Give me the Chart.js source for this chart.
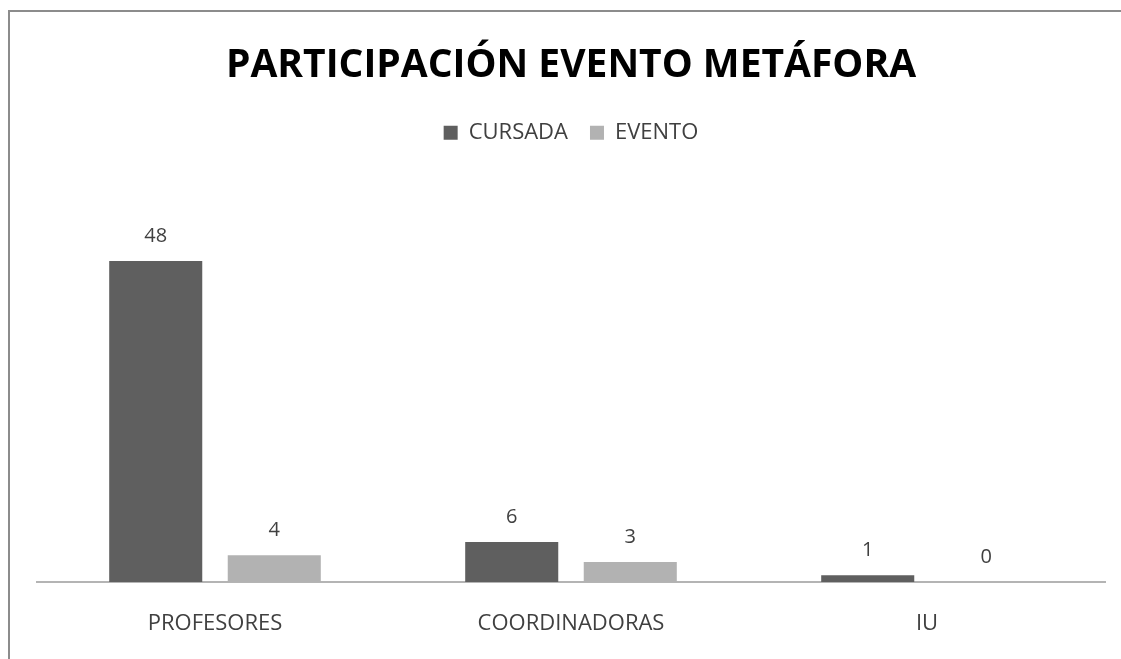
<!DOCTYPE html>
<html>
<head>
<meta charset="utf-8">
<script src="https://cdn.jsdelivr.net/npm/chart.js@4"></script>
<style>
  html, body { margin: 0; padding: 0; background: #fff; }
  #wrap { position: relative; width: 1121px; height: 659px; overflow: hidden; }
  #frame { position: absolute; left: 8px; top: 10px; width: 1200px; height: 700px;
           border-left: 2px solid #8c8c8c; border-top: 2px solid #8c8c8c; }
  canvas { position: absolute; left: 0; top: 0; }
</style>
</head>
<body>
<div id="wrap">
  <div id="frame"></div>
  <canvas id="chart" width="1121" height="659"></canvas>
</div>
<script>
const categories = ["PROFESORES", "COORDINADORAS", "IU"];
const cursada = [48, 6, 1];
const evento = [4, 3, 0];

const textColor = "#404040";
const fontFamily = "'Open Sans', sans-serif";

// write the value above each bar
const valueLabels = {
  id: "valueLabels",
  afterDatasetsDraw(chart) {
    const ctx = chart.ctx;
    ctx.save();
    ctx.fillStyle = textColor;
    ctx.font = "20px " + fontFamily;
    ctx.textAlign = "center";
    ctx.textBaseline = "middle";
    chart.data.datasets.forEach(function (ds, i) {
      chart.getDatasetMeta(i).data.forEach(function (bar, j) {
        ctx.fillText(ds.data[j], bar.x, bar.y - 25);
      });
    });
    ctx.restore();
  }
};

// extra room under the legend
const legendGap = {
  id: "legendGap",
  beforeInit(chart) {
    const fit = chart.legend.fit;
    chart.legend.fit = function () {
      fit.bind(chart.legend)();
      this.height += 27;
    };
  }
};

const ctx = document.getElementById("chart").getContext("2d");
new Chart(ctx, {
  type: "bar",
  data: {
    labels: categories,
    datasets: [
      {
        label: "CURSADA",
        data: cursada,
        backgroundColor: "#5f5f5f",
        barPercentage: 0.785,
        categoryPercentage: 0.666
      },
      {
        label: "EVENTO",
        data: evento,
        backgroundColor: "#b2b2b2",
        barPercentage: 0.785,
        categoryPercentage: 0.666
      }
    ]
  },
  options: {
    responsive: false,
    animation: false,
    layout: { padding: { left: 37, right: 16, top: 42, bottom: 0 } },
    plugins: {
      title: {
        display: true,
        text: "PARTICIPACIÓN EVENTO METÁFORA",
        color: "#000",
        font: { family: fontFamily, size: 39, weight: "bold" },
        padding: { top: 0, bottom: 11 }
      },
      legend: {
        labels: {
          color: textColor,
          boxWidth: 14,
          boxHeight: 14,
          font: { family: fontFamily, size: 22 },
          padding: 22
        }
      },
      tooltip: { enabled: false }
    },
    scales: {
      x: {
        grid: { display: false, drawTicks: false },
        border: { display: true, color: "#b4b4b4", width: 2 },
        ticks: { color: textColor, font: { family: fontFamily, size: 22 }, padding: 29 },
        afterFit: function (scale) { scale.height = 77; }
      },
      y: {
        display: false,
        min: 0,
        max: 60
      }
    }
  },
  plugins: [valueLabels, legendGap]
});
</script>
</body>
</html>
